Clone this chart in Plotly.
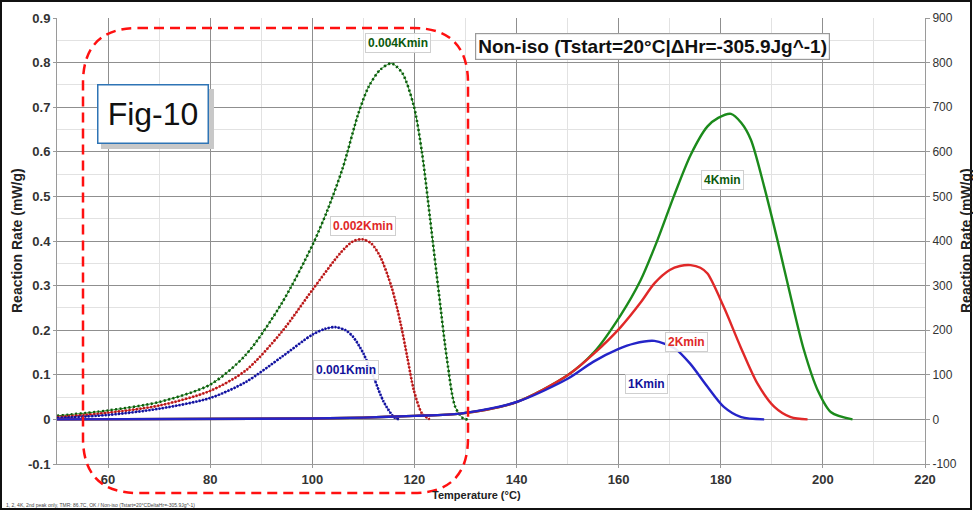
import plotly.graph_objects as go

# ---------------- data ----------------
t_004 = [50, 60, 70, 80, 87, 94, 100, 103, 106, 109, 111, 113.3, 115.5, 117.6, 119.9, 121.5, 123.1, 124.8, 126.4, 128, 129.6, 130.5]
r_004 = [0.008, 0.02, 0.039, 0.078, 0.145, 0.26, 0.39, 0.47, 0.565, 0.685, 0.745, 0.784, 0.798, 0.777, 0.702, 0.597, 0.447, 0.282, 0.133, 0.028, 0.002, 0.0]

t_002 = [50, 60, 70, 80, 87, 94, 100, 105.5, 107.8, 109.7, 111.5, 113.3, 115.6, 117.3, 118.6, 119.9, 121.5, 123]
r_002 = [0.005, 0.015, 0.031, 0.064, 0.11, 0.196, 0.29, 0.373, 0.398, 0.404, 0.395, 0.365, 0.294, 0.215, 0.14, 0.065, 0.013, 0.0]

t_001 = [50, 60, 70, 80, 87, 94, 100, 102.5, 104.5, 106.5, 108, 110, 112, 114, 116, 117]
r_001 = [0.003, 0.01, 0.024, 0.048, 0.084, 0.14, 0.19, 0.203, 0.207, 0.2, 0.185, 0.148, 0.095, 0.039, 0.005, 0.0]

t_4k = [50, 100, 110, 120, 129, 140, 150, 155.2, 160.4, 164.3, 167.6, 170.8, 174.1, 177.4, 179.5, 182, 184, 185.9, 188.5, 191.1, 193.7, 196.3, 199, 201.6, 205.8]
r_4k = [0, 2, 4, 8, 13, 39, 99, 151, 234, 312, 402, 500, 593, 657, 676, 685, 665, 627, 522, 402, 275, 155, 65, 16, 0]

t_2k = [50, 100, 110, 120, 129, 140, 150, 155.2, 160.4, 164.3, 167, 170, 172, 174.1, 176, 177.4, 180.6, 183.9, 187.2, 190.5, 193.7, 197]
r_2k = [0, 2, 4, 8, 13, 39, 99, 148, 207, 262, 305, 335, 344, 346, 340, 327, 252, 162, 80, 28, 5, 0]

t_1k = [50, 100, 110, 120, 129, 140, 150, 155, 160, 163, 167, 171, 174, 177.4, 180.6, 184, 188.5]
r_1k = [0, 2, 4, 8, 13, 39, 91, 129, 158, 170, 176, 159, 125, 73, 28, 5, 0]

x_ticks = [60, 80, 100, 120, 140, 160, 180, 200, 220]
y_ticks = [-0.1, 0, 0.1, 0.2, 0.3, 0.4, 0.5, 0.6, 0.7, 0.8, 0.9]
y_ticktext = ["-0.1", "0", "0.1", "0.2", "0.3", "0.4", "0.5", "0.6", "0.7", "0.8", "0.9"]
y2_ticks = [-100, 0, 100, 200, 300, 400, 500, 600, 700, 800, 900]
y2_ticktext = ["-100", "0", "100", "200", "300", "400", "500", "600", "700", "800", "900"]

labels_left = [("0.004Kmin", 116.8, 0.843), ("0.002Kmin", 110.0, 0.434), ("0.001Kmin", 106.6, 0.110)]
labels_right = [("4Kmin", 180.3, 537), ("2Kmin", 173.2, 173), ("1Kmin", 165.4, 79)]

GREEN = "#1b8a1b"
GREEN_D = "#0d5a0d"
RED = "#e02828"
RED_D = "#b51818"
BLUE = "#2424c8"
BLUE_D = "#12129a"
FONT = "Liberation Sans, Arial, sans-serif"

fig = go.Figure()

# slow-rate curves (dotted look: thin line + dotted overlay)
for t, r, c, cd, dash in [(t_004, r_004, GREEN, GREEN_D, "2px,2.5px"),
                          (t_002, r_002, RED, RED_D, "2px,1.6px"),
                          (t_001, r_001, BLUE, BLUE_D, "2px,1.4px")]:
    fig.add_trace(go.Scatter(x=t, y=r, mode="lines", line=dict(color=c, width=1, shape="spline", smoothing=0.8),
                             showlegend=False, hoverinfo="skip"))
    fig.add_trace(go.Scatter(x=t, y=r, mode="lines", line=dict(color=cd, width=2.6, dash=dash, shape="spline", smoothing=0.8),
                             showlegend=False))

# fast-rate curves on right axis
for t, r, c in [(t_4k, r_4k, GREEN), (t_2k, r_2k, RED), (t_1k, r_1k, BLUE)]:
    fig.add_trace(go.Scatter(x=t, y=r, mode="lines", yaxis="y2",
                             line=dict(color=c, width=2.4, shape="spline", smoothing=0.8), showlegend=False))

# curve labels
for txt, x, y in labels_left:
    col = GREEN_D if "004" in txt else (RED if "002" in txt else BLUE_D)
    fig.add_annotation(x=x, y=y, xref="x", yref="y", text=txt, showarrow=False,
                       font=dict(family=FONT, size=12, color=col, weight="bold"),
                       bgcolor="rgba(255,255,255,0.9)", bordercolor="#cfcfcf", borderwidth=1, borderpad=2)
for txt, x, y in labels_right:
    col = GREEN_D if "4K" in txt else (RED if "2K" in txt else BLUE_D)
    fig.add_annotation(x=x, y=y, xref="x", yref="y2", text=txt, showarrow=False,
                       font=dict(family=FONT, size=12, color=col, weight="bold"),
                       bgcolor="rgba(255,255,255,0.9)", bordercolor="#cfcfcf", borderwidth=1, borderpad=2)

# layout geometry (pixels)
L, R, T, B = 57, 48, 18, 47
W, H = 973, 511
PW, PH = W - L - R, H - T - B

def px(x):
    return (x - L) / PW

def py(y):
    return (H - B - y) / PH

# title box
fig.add_annotation(x=px(652), y=py(47), xref="paper", yref="paper", xanchor="center", yanchor="middle",
                   text="Non-iso (Tstart=20°C|ΔHr=-305.9Jg^-1)", showarrow=False,
                   font=dict(family=FONT, size=19, color="#111111", weight="bold"),
                   bgcolor="white", bordercolor="#9a9a9a", borderwidth=1.2, borderpad=2)

# Fig-10 box with shadow
fig.add_shape(type="rect", xref="paper", yref="paper", x0=px(101), x1=px(214), y0=py(149), y1=py(89),
              fillcolor="#c8c8c8", line=dict(width=0), layer="above")
fig.add_annotation(x=px(153), y=py(114), xref="paper", yref="paper", xanchor="center", yanchor="middle",
                   text="Fig-10", showarrow=False,
                   font=dict(family=FONT, size=32, color="#111111"), width=109, height=57,
                   bgcolor="white", bordercolor="#2e74b5", borderwidth=1.5, borderpad=0)

# red dashed rounded rectangle
x0, x1 = px(83), px(468)
yt, yb = py(28), py(493)
rx, ry = 55 / PW, 55 / PH
path = (f"M {x0+rx},{yt} L {x1-rx},{yt} Q {x1},{yt} {x1},{yt-ry} L {x1},{yb+ry} Q {x1},{yb} {x1-rx},{yb} "
        f"L {x0+rx},{yb} Q {x0},{yb} {x0},{yb+ry} L {x0},{yt-ry} Q {x0},{yt} {x0+rx},{yt} Z")
fig.add_shape(type="path", path=path, xref="paper", yref="paper",
              line=dict(color="#ff1010", width=2.5, dash="10px,6px"), layer="above")

# outer frame
fig.add_shape(type="rect", xref="paper", yref="paper", x0=px(1), x1=px(971), y0=py(509), y1=py(1),
              line=dict(color="#111111", width=2))

# axis titles
fig.add_annotation(x=px(476), y=py(495), xref="paper", yref="paper", xanchor="center", yanchor="middle",
                   text="Temperature (°C)", showarrow=False,
                   font=dict(family=FONT, size=11, color="#222222", weight="bold"))
fig.add_annotation(x=px(17), y=py(241), xref="paper", yref="paper", xanchor="center", yanchor="middle",
                   text="Reaction Rate (mW/g)", showarrow=False,
                   textangle=-90, font=dict(family=FONT, size=14, color="#222222", weight="bold"))
fig.add_annotation(x=px(966), y=py(241), xref="paper", yref="paper", xanchor="center", yanchor="middle",
                   text="Reaction Rate (mW/g)", showarrow=False,
                   textangle=-90, font=dict(family=FONT, size=14, color="#222222", weight="bold"))
# footnote
fig.add_annotation(x=px(4), y=py(505), xref="paper", yref="paper", xanchor="left", yanchor="middle",
                   text="1, 2, 4K, 2nd peak only, TMR: 86.7C, OK / Non-iso (Tstart=20°CDeltaHr=-305.9Jg^-1)",
                   showarrow=False, font=dict(family=FONT, size=5, color="#444444"))

tickfont = dict(family=FONT, size=13, color="#333333", weight="bold")
fig.update_layout(
    width=W, height=H, margin=dict(l=L, r=R, t=T, b=B),
    paper_bgcolor="white", plot_bgcolor="white", showlegend=False,
    xaxis=dict(range=[50, 220], tickvals=x_ticks, tickfont=tickfont, showgrid=True, gridcolor="#8f8f8f", gridwidth=1.2,
               minor=dict(dtick=10, tick0=50, showgrid=True, gridcolor="#e2e2e2", gridwidth=1),
               zeroline=False, showline=True, linecolor="#9a9a9a", ticks="outside", ticklen=3, tickcolor="#9a9a9a"),
    yaxis=dict(range=[-0.1, 0.9], tickvals=y_ticks, ticktext=y_ticktext, tickfont=tickfont,
               showgrid=True, gridcolor="#8f8f8f", gridwidth=1.2,
               minor=dict(dtick=0.05, tick0=0, showgrid=True, gridcolor="#e2e2e2", gridwidth=1),
               zeroline=False, showline=True, linecolor="#9a9a9a", ticks="outside", ticklen=3, tickcolor="#9a9a9a"),
    yaxis2=dict(range=[-100, 900], overlaying="y", side="right", tickvals=y2_ticks, ticktext=y2_ticktext,
                tickfont=dict(family=FONT, size=12, color="#333333"), showgrid=False, zeroline=False,
                showline=True, linecolor="#9a9a9a", ticks="outside", ticklen=4, tickcolor="#9a9a9a"),
)

fig.write_html("out.html", config={"displayModeBar": False},
               post_script="document.body.style.margin='0';document.body.style.overflow='hidden';")
